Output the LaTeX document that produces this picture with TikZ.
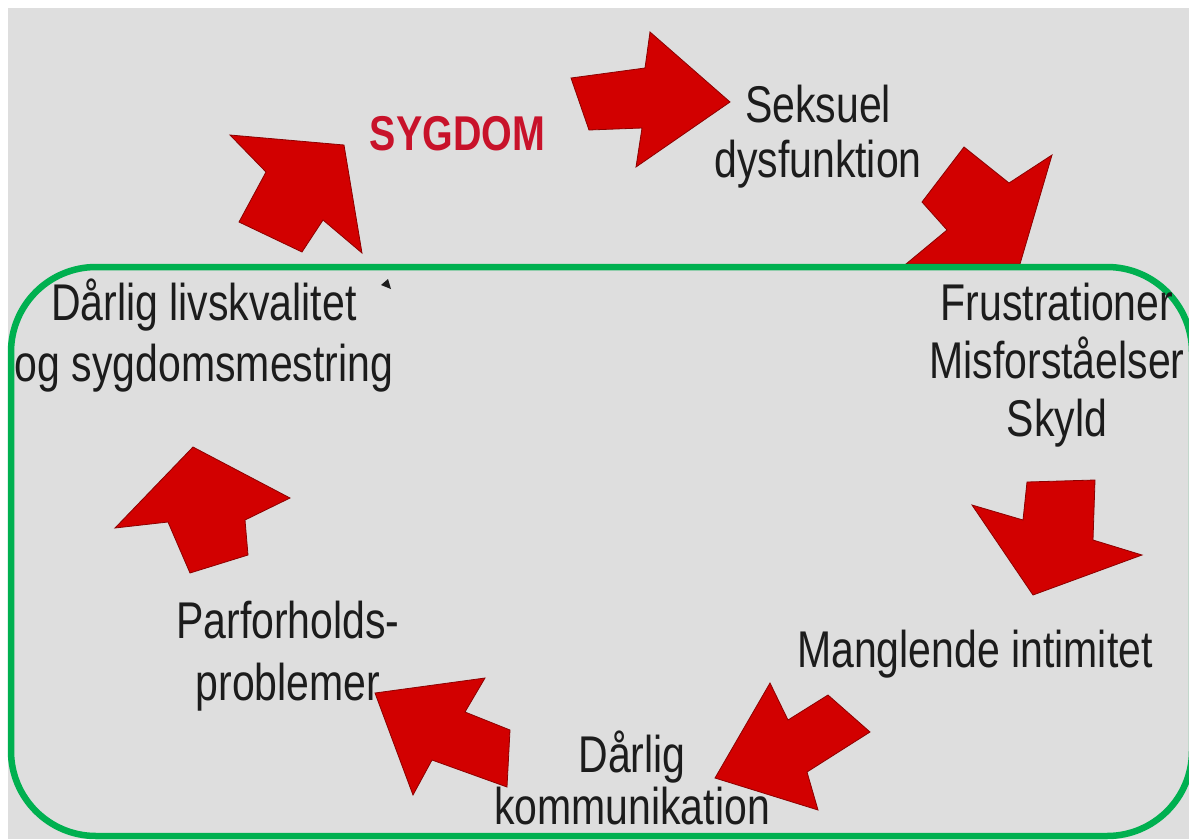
\documentclass[tikz,border=0pt]{standalone}
\usepackage{fontspec}
\setmainfont{Liberation Sans}
\definecolor{bg}{RGB}{222,222,222}
\definecolor{grn}{RGB}{0,176,80}
\definecolor{arr}{RGB}{210,0,0}
\definecolor{arredge}{RGB}{140,0,0}
\definecolor{ink}{RGB}{28,28,28}
\definecolor{sred}{RGB}{200,18,42}
\newcommand\stk[2]{\scalebox{1}[1.26]{\fontsize{41}{#1}\selectfont\vtop{\halign{\hfil##\hfil\cr#2\crcr}}}}
\begin{document}
\begin{tikzpicture}[x=1pt,y=-1pt,
  lab/.style={inner sep=0pt, anchor=base, text=ink},
  bigarrow/.style={fill=arr, draw=arredge, line width=0.8pt, line join=miter},
  loopbox/.style={draw=grn, line width=6.5pt, rounded corners=85pt}]
\useasboundingbox (0,0) rectangle (1189,839);
\fill[white] (0,0) rectangle (1189,839);
\fill[bg] (8,8) rectangle (1189,839);

% arrows of the cycle
\filldraw[bigarrow] (230,135) -- (344,145) -- (362,253) -- (323,220) -- (302,252) -- (239,222) -- (266,172) -- cycle;
\filldraw[bigarrow] (571,78) -- (645,68) -- (650,32) -- (730,102) -- (636,167) -- (642,128) -- (589,130) -- cycle;
\filldraw[bigarrow] (964,147) -- (1009,183) -- (1052,155) -- (1020,264) -- (906,264) -- (947,230) -- (922,202) -- cycle;
\filldraw[bigarrow] (1027,482) -- (1095,480) -- (1093,540) -- (1142,555) -- (1033,595) -- (972,505) -- (1023,520) -- cycle;
\filldraw[bigarrow] (770,683) -- (788,720) -- (828,695) -- (870,732) -- (807,772) -- (818,810) -- (715,778) -- cycle;
\filldraw[bigarrow] (375,693) -- (485,678) -- (465,712) -- (510,730) -- (507,787) -- (432,760) -- (413,795) -- cycle;
\filldraw[bigarrow] (193,447) -- (290,498) -- (245,520) -- (248,555) -- (190,573) -- (168,522) -- (115,528) -- cycle;

% small mark
\fill[ink] (381,285) -- (388,279) -- (391,289) -- cycle;

% green frame
\draw[loopbox] (11,267) rectangle (1192,836);

% labels
\node[lab] (syg) at (457.5,150) {\scalebox{1}[1.24]{\fontsize{39.4}{45}\selectfont\bfseries\color{sred}SYGDOM}};
\node[lab] (seks) at (818,122) {\stk{44.4}{Seksuel\cr dysfunktion}};
\node[lab] (frus) at (1057,320) {\stk{46.4}{Frustrationer\cr Misforståelser\cr Skyld}};
\node[lab] (mang) at (975,667) {\stk{46}{Manglende intimitet}};
\node[lab] (komm) at (632,772) {\stk{41.3}{Dårlig\cr kommunikation}};
\node[lab] (parf) at (288,638) {\stk{49.2}{Parforholds-\cr problemer}};
\node[lab] (livs) at (204,320) {\stk{49.2}{Dårlig livskvalitet\cr og sygdomsmestring}};
\end{tikzpicture}
\end{document}
